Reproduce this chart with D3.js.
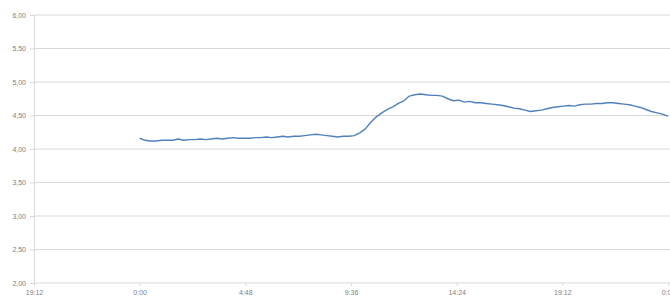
<!DOCTYPE html>
<html>
<head>
<meta charset="utf-8">
<script src="https://cdn.jsdelivr.net/npm/d3@7"></script>
<style>
  body { margin: 0; background: #fff; overflow: hidden; }
  text { font-family: "Liberation Sans", Arial, sans-serif; }
</style>
</head>
<body>
<script>
// readings every 15 minutes, from 0:00 to 24:00
const stepMinutes = 15;
const values = [
  4.16, 4.13, 4.12, 4.12, 4.13, 4.13, 4.13, 4.15, 4.13, 4.14,
  4.14, 4.15, 4.14, 4.15, 4.16, 4.15, 4.16, 4.17, 4.16, 4.16,
  4.16, 4.17, 4.17, 4.18, 4.17, 4.18, 4.19, 4.18, 4.19, 4.19,
  4.20, 4.21, 4.22, 4.21, 4.20, 4.19, 4.18, 4.19, 4.19, 4.20,
  4.24, 4.30, 4.40, 4.48, 4.54, 4.59, 4.63, 4.68, 4.72, 4.79,
  4.81, 4.82, 4.81, 4.80, 4.80, 4.79, 4.75, 4.72, 4.73, 4.70,
  4.71, 4.69, 4.69, 4.68, 4.67, 4.66, 4.65, 4.63, 4.61, 4.60,
  4.58, 4.56, 4.57, 4.58, 4.60, 4.62, 4.63, 4.64, 4.65, 4.64,
  4.66, 4.67, 4.67, 4.68, 4.68, 4.69, 4.69, 4.68, 4.67, 4.66,
  4.64, 4.62, 4.59, 4.56, 4.54, 4.52, 4.49
];
const xTicks = [-288, 0, 288, 576, 864, 1152, 1440]; // minutes from midnight
const xTickLabels = ["19:12", "0:00", "4:48", "9:36", "14:24", "19:12", "0:00"];
const yTicks = [2, 2.5, 3, 3.5, 4, 4.5, 5, 5.5, 6];

const width = 670, height = 298;
const margin = {top: 15, right: 2, bottom: 15, left: 34};

let x = d3.scaleLinear().domain([-288, 1440]).range([margin.left, width - margin.right]);
let y = d3.scaleLinear().domain([2, 6]).range([height - margin.bottom, margin.top]);

let svg = d3.select("body").append("svg")
  .attr("width", width)
  .attr("height", height);

// horizontal gridlines
svg.append("g")
  .selectAll("line")
  .data(yTicks.slice(1))
  .join("line")
  .attr("x1", margin.left)
  .attr("x2", width)
  .attr("y1", d => y(d))
  .attr("y2", d => y(d))
  .attr("stroke", "#d9d9d9")
  .attr("stroke-width", 1);

let fmt = d => d3.format(".2f")(d).replace(".", ",");

let yAxis = svg.append("g")
  .attr("transform", "translate(" + margin.left + ",0)")
  .call(d3.axisLeft(y).tickValues(yTicks).tickFormat(fmt).tickSize(4).tickPadding(4));

let xAxis = svg.append("g")
  .attr("transform", "translate(0," + y(2) + ")")
  .call(d3.axisBottom(x).tickValues(xTicks).tickFormat((d, i) => xTickLabels[i]).tickSize(3).tickPadding(4));

xAxis.select(".domain").attr("d", "M" + margin.left + ",0H" + width);

[xAxis, yAxis].forEach(a => {
  a.select(".domain").attr("stroke", "#d9d9d9");
  a.selectAll(".tick line").attr("stroke", "#d9d9d9");
  a.selectAll(".tick text").attr("fill", "#808080").style("font-size", "7px");
});

let line = d3.line()
  .x((d, i) => x(i * stepMinutes))
  .y(d => y(d));

svg.append("path")
  .datum(values)
  .attr("fill", "none")
  .attr("stroke", "#5081bd")
  .attr("stroke-width", 1.4)
  .attr("stroke-linejoin", "round")
  .attr("d", line);
</script>
</body>
</html>
